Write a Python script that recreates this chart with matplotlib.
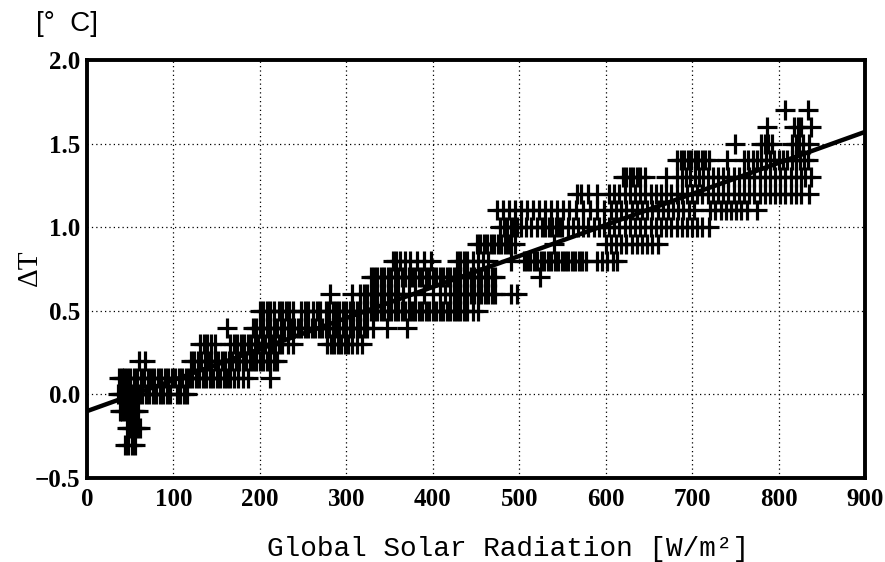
import numpy as np
import matplotlib
matplotlib.use('Agg')
import matplotlib.pyplot as plt

# temperature levels (dT is logged in 0.1 degC steps) and the radiation
# values read off the chart for each level
levels = [-0.3, -0.2, -0.1, 0.0, 0.1, 0.2, 0.3, 0.4, 0.5, 0.6, 0.7, 0.8,
          0.9, 1.0, 1.1, 1.2, 1.3, 1.4, 1.5, 1.6, 1.7]

rad_m03 = [44, 47, 52, 55]
rad_m02 = [46, 49, 52, 55, 58, 61]
rad_m01 = [38, 41, 44, 47, 50, 53, 56, 59]
rad_00 = [36, 39, 42, 45, 48, 51, 54, 57, 60, 64, 68, 72, 76, 80, 84, 88,
          92, 96, 104, 108, 112, 116]
rad_01 = [37, 40, 43, 46, 50, 54, 58, 62, 66, 70, 74, 78, 82, 86, 90, 94,
          98, 102, 106, 110, 114, 118, 122, 126, 130, 134, 138, 142, 146,
          150, 154, 158, 162, 166, 170, 175, 180, 186, 212]
rad_02 = [60, 67, 120, 124, 128, 132, 136, 140, 144, 148, 152, 156, 160,
          164, 168, 172, 176, 180, 184, 188, 192, 196, 200, 204, 208, 212,
          216, 220]
rad_03 = [131, 135, 139, 143, 148, 166, 170, 174, 178, 182, 186, 190, 194,
          198, 202, 206, 210, 214, 218, 222, 226, 232, 238, 278, 282, 286,
          290, 294, 298, 302, 306, 312, 318]
rad_04 = [162, 192, 196, 200, 204, 208, 212, 216, 220, 224, 228, 232, 236,
          240, 244, 248, 252, 256, 260, 264, 268, 272, 276, 280, 284, 288,
          292, 296, 300, 304, 308, 312, 316, 320, 324, 331, 347, 370]
rad_05 = [200, 204, 208, 212, 216, 222, 226, 230, 234, 238, 248, 252, 256,
          262, 266, 270, 276, 280, 284, 288, 292, 296, 300, 304, 308, 312,
          316, 320, 324, 328, 332, 336, 340, 344, 348, 352, 356, 360, 364,
          368, 372, 376, 380, 384, 388, 392, 396, 400, 404, 408, 412, 416,
          420, 424, 428, 432, 436, 440, 446, 452]
rad_06 = [281, 307, 316, 320, 324, 328, 332, 336, 340, 344, 348, 352, 356,
          360, 366, 372, 380, 390, 400, 408, 414, 420, 424, 428, 432, 436,
          440, 444, 448, 452, 456, 460, 464, 468, 472, 490, 497]
rad_07 = [328, 332, 336, 340, 344, 348, 352, 356, 360, 364, 368, 372, 376,
          380, 384, 388, 392, 396, 400, 404, 408, 412, 416, 420, 424, 428,
          432, 436, 440, 444, 448, 452, 456, 460, 464, 468, 472, 524]
rad_08 = [354, 358, 362, 368, 374, 382, 390, 398, 428, 432, 436, 440, 446,
          452, 458, 464, 490, 505, 509, 513, 517, 521, 525, 529, 533, 537,
          541, 545, 549, 553, 557, 561, 565, 569, 573, 577, 590, 596, 602,
          608, 613]
rad_09 = [451, 455, 459, 463, 467, 471, 475, 479, 483, 487, 491, 495, 540,
          600, 606, 612, 618, 624, 630, 636, 642, 648, 654, 660]
rad_10 = [478, 482, 486, 490, 494, 498, 502, 508, 514, 520, 526, 530, 534,
          538, 542, 546, 550, 556, 562, 568, 574, 580, 586, 592, 598, 604,
          610, 616, 622, 628, 634, 640, 646, 652, 658, 664, 670, 676, 682,
          688, 694, 700, 706, 712, 720]
rad_11 = [474, 481, 488, 495, 502, 509, 516, 523, 530, 537, 544, 551, 558,
          566, 574, 582, 590, 598, 606, 612, 618, 624, 630, 636, 642, 648,
          654, 660, 666, 672, 678, 684, 690, 696, 702, 721, 727, 733, 739,
          745, 751, 757, 764, 775]
rad_12 = [567, 571, 580, 590, 604, 610, 616, 622, 628, 634, 640, 646, 652,
          658, 664, 670, 676, 682, 688, 694, 700, 706, 712, 718, 724, 730,
          736, 742, 748, 754, 760, 766, 772, 778, 784, 790, 796, 802, 808,
          814, 820, 826, 835]
rad_13 = [620, 624, 628, 632, 636, 640, 645, 670, 683, 688, 693, 698, 703,
          708, 713, 718, 724, 730, 736, 742, 748, 754, 760, 766, 772, 778,
          784, 790, 796, 802, 808, 814, 820, 826, 831, 837]
rad_14 = [683, 687, 691, 695, 699, 703, 707, 711, 715, 720, 740, 760, 765,
          770, 775, 780, 785, 790, 795, 800, 805, 810, 815, 820, 825, 830,
          834]
rad_15 = [750, 780, 784, 788, 792, 816, 820, 824, 828, 835]
rad_16 = [787, 818, 822, 826, 838]
rad_17 = [808, 834]

rad_lists = [rad_m03, rad_m02, rad_m01, rad_00, rad_01, rad_02, rad_03,
             rad_04, rad_05, rad_06, rad_07, rad_08, rad_09, rad_10, rad_11,
             rad_12, rad_13, rad_14, rad_15, rad_16, rad_17]

# regression line end points
fit_x = [0, 900]
fit_y = [-0.1, 1.57]

xticks = [0, 100, 200, 300, 400, 500, 600, 700, 800, 900]
yticks = [-0.5, 0.0, 0.5, 1.0, 1.5, 2.0]

x = []
y = []
for lev, rads in zip(levels, rad_lists):
    x += rads
    y += [lev] * len(rads)
x = np.array(x, dtype=float)
y = np.array(y)

fig = plt.figure(figsize=(8.85, 5.62), dpi=100)
ax = fig.add_axes([87/885, 1 - 478/562, 778/885, 418/562])

ax.plot(x, y, linestyle='none', marker='+', markersize=14.5,
        markeredgewidth=2.3, color='black', zorder=3)
ax.plot(fit_x, fit_y, color='black', linewidth=3.2, zorder=4,
        solid_capstyle='butt')

ax.set_xlim(0, 900)
ax.set_ylim(-0.5, 2.0)
ax.set_xticks(xticks)
ax.set_yticks(yticks)
ax.set_xticklabels([str(v) for v in xticks])
ax.set_yticklabels(['\u22120.5', '0.0', '0.5', '1.0', '1.5', '2.0'])
ax.grid(True, color='black', linestyle=(0, (1, 2.5)), linewidth=0.9)
ax.set_axisbelow(True)

for s in ax.spines.values():
    s.set_linewidth(2.8)
ax.tick_params(length=0, labelsize=18)
ax.tick_params(axis='x', pad=7)
ax.tick_params(axis='y', pad=5)
for lab in ax.get_xticklabels() + ax.get_yticklabels():
    lab.set_fontfamily('Liberation Serif')
    lab.set_fontweight('bold')

fig.text(30/885, 1 - 268/562, '\u0394T', rotation=90, ha='center',
         va='center', fontsize=21, family='Liberation Serif')
fig.text(36/885, 1 - 24/562, '[\u00b0  C]', ha='left', va='center',
         fontsize=20, family='Liberation Sans')
fig.text(508/885, 1 - 549/562, 'Global Solar Radiation [W/m\u00b2]',
         ha='center', va='center', fontsize=20, family='Liberation Mono')

fig.savefig('out.png', dpi=100)
